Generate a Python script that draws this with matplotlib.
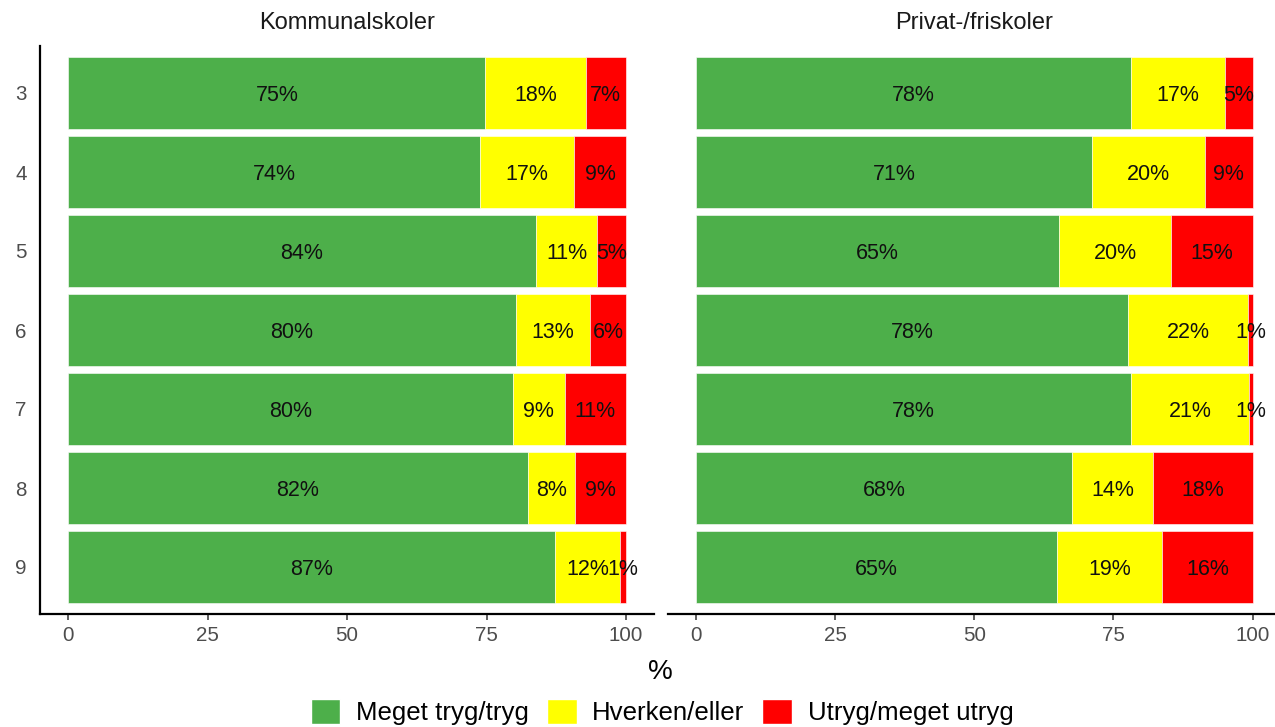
import matplotlib
matplotlib.use("Agg")
import matplotlib.pyplot as plt
from matplotlib.patches import Patch
import numpy as np

plt.rcParams['font.family'] = ['Liberation Sans', 'DejaVu Sans']

grades = ["3", "4", "5", "6", "7", "8", "9"]
panels = ["Kommunalskoler", "Privat-/friskoler"]
categories = ["Meget tryg/tryg", "Hverken/eller", "Utryg/meget utryg"]
colors = ["#4DAF4A", "#FFFF00", "#FF0000"]

kommunal_tryg = [74.8, 73.8, 83.8, 80.2, 79.8, 82.4, 87.3]
kommunal_hverken = [18.0, 16.9, 11.1, 13.4, 9.2, 8.5, 11.7]
kommunal_utryg = [7.2, 9.3, 5.1, 6.4, 11.0, 9.1, 1.0]

privat_tryg = [78.2, 71.1, 65.2, 77.6, 78.2, 67.6, 64.8]
privat_hverken = [16.9, 20.3, 20.2, 21.6, 21.2, 14.5, 19.0]
privat_utryg = [4.9, 8.6, 14.6, 0.8, 0.6, 17.9, 16.2]

data = {
    "Kommunalskoler": [kommunal_tryg, kommunal_hverken, kommunal_utryg],
    "Privat-/friskoler": [privat_tryg, privat_hverken, privat_utryg],
}

W, H = 1275, 727
fig = plt.figure(figsize=(W / 100, H / 100), dpi=100)

top_px, bot_px = 45.6, 614.4
axes_px = [(40.4, 653.8), (668.1, 1280.4)]
axs = []
for i, (x0, x1) in enumerate(axes_px):
    ax = fig.add_axes([x0 / W, 1 - bot_px / H, (x1 - x0) / W, (bot_px - top_px) / H])
    axs.append(ax)

y = np.arange(len(grades))
for i, (ax, name) in enumerate(zip(axs, panels)):
    series = data[name]
    left = np.zeros(len(grades))
    for vals, col in zip(series, colors):
        vals = np.array(vals)
        ax.barh(y, vals, left=left, height=0.9, color=col, edgecolor="white", linewidth=0.4)
        for yi, (l, v) in enumerate(zip(left, vals)):
            ax.text(l + v / 2, yi, f"{int(round(v))}%", ha="center", va="center_baseline",
                    fontsize=15.5, color="#111111", clip_on=False)
        left = left + vals
    ax.set_xlim(-5, 105)
    ax.set_ylim(len(grades) - 0.4, -0.6)
    ax.set_xticks([0, 25, 50, 75, 100])
    ax.set_xticklabels(["0", "25", "50", "75", "100"])
    ax.tick_params(axis="x", colors="#333333", labelcolor="#4D4D4D", labelsize=14.8,
                   length=4, width=1.1, pad=4)
    ax.spines["top"].set_visible(False)
    ax.spines["right"].set_visible(False)
    ax.spines["bottom"].set_linewidth(1.6)
    ax.spines["left"].set_linewidth(1.6)
    if i == 0:
        ax.set_yticks(y)
        ax.set_yticklabels(grades)
        ax.tick_params(axis="y", length=0, labelcolor="#4D4D4D", labelsize=14.8, pad=10)
    else:
        ax.spines["left"].set_visible(False)
        ax.set_yticks([])
    ax.set_title(name, fontsize=17, color="#1A1A1A", pad=12)

fig.text(660 / W, 1 - 672 / H, "%", fontsize=20, ha="center", va="center")

handles = [Patch(facecolor=c, edgecolor="white", label=l) for c, l in zip(colors, categories)]
fig.legend(handles=handles, loc="center", bbox_to_anchor=(662 / W, 1 - 712 / H), ncol=3,
           frameon=False, fontsize=18.6, handlelength=1.15, handleheight=1.15,
           columnspacing=0.7, handletextpad=0.6, borderpad=0)

fig.savefig("out.png", dpi=100)
